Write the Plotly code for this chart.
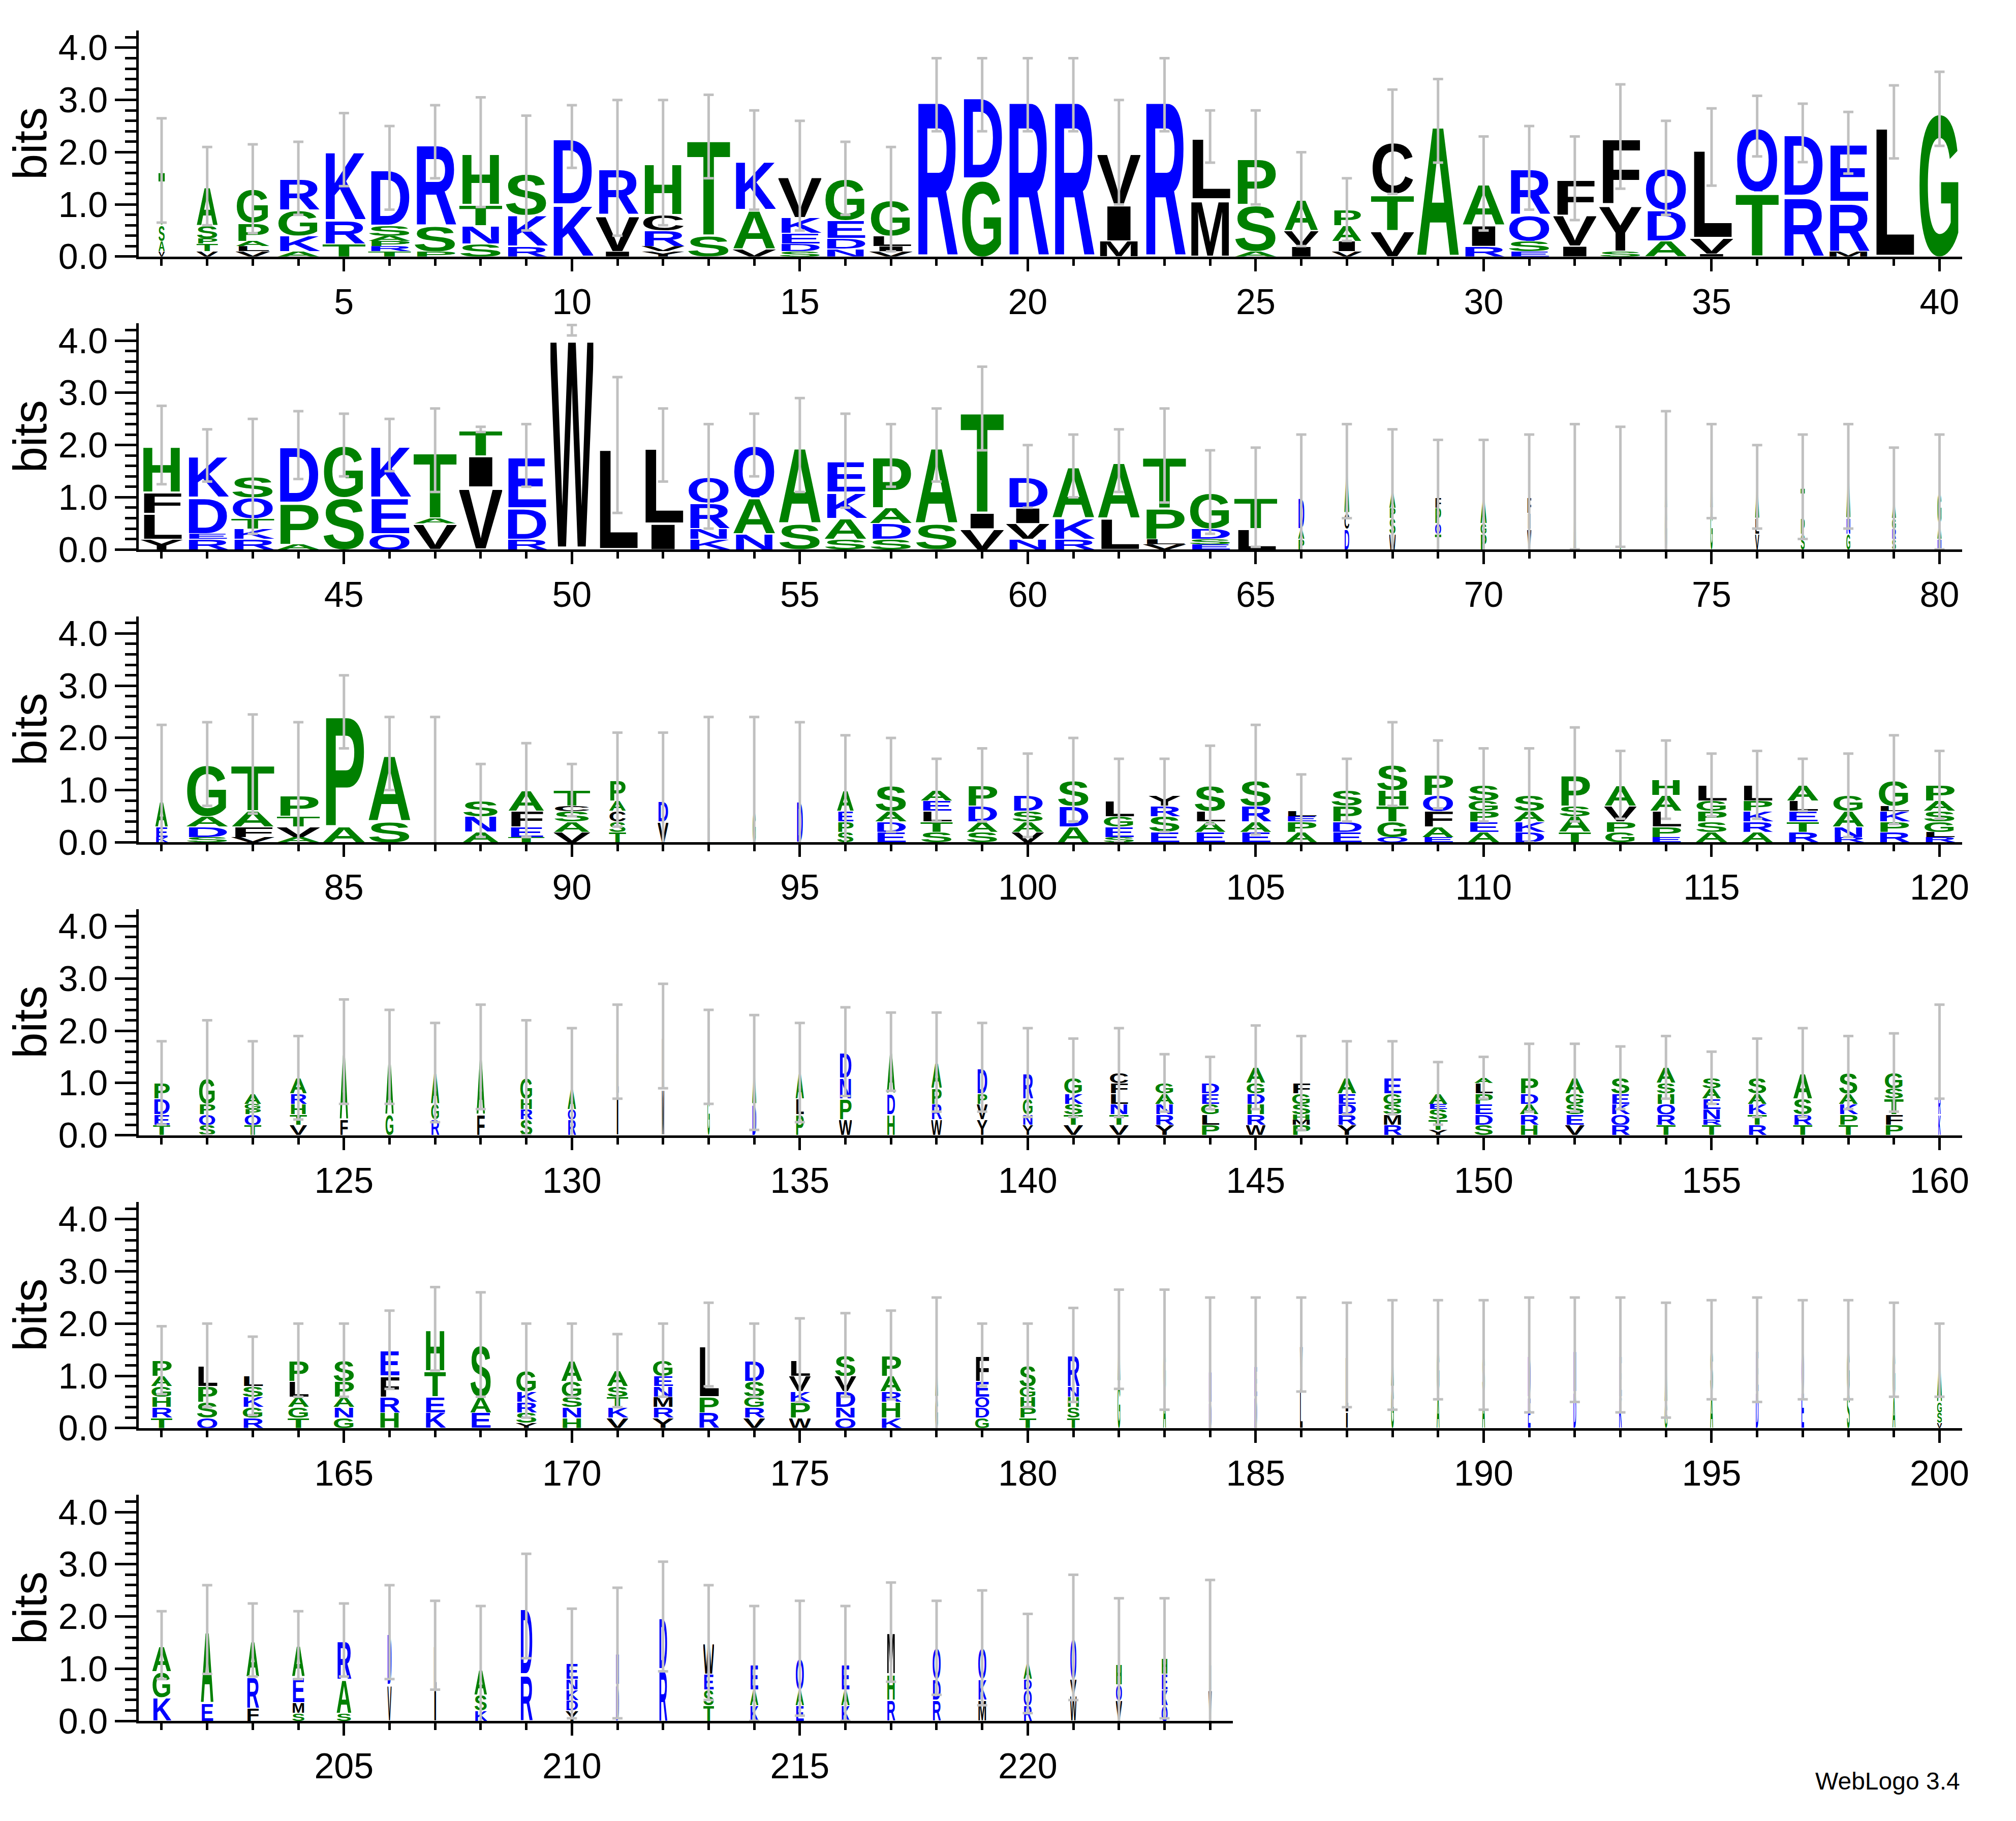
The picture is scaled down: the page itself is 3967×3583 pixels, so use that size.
import base64
import plotly.graph_objects as go

# sequence logo data: each stack lists letters bottom -> top with height in bits
row1_stacks = [
    "V0.1 A0.2 S0.3 T1.05", "V0.1 T0.15 P0.1 S0.25 A0.75", "V0.1 L0.1 A0.1 P0.35 G0.65", "A0.1 K0.3 G0.5 R0.6",
    "T0.25 R0.45 K1.35", "T0.1 R0.1 P0.1 A0.1 S0.2 D1.1", "P0.1 S0.5 R1.6", "S0.25 N0.35 T0.4 H1.0",
    "R0.2 K0.6 S0.8", "K1.0 D1.3", "I0.1 V0.7 R0.9", "Y0.1 V0.1 R0.3 C0.3 H1.0",
    "S0.4 T1.9", "V0.15 A0.75 K0.95", "S0.1 D0.15 E0.2 K0.3 V0.8", "N0.15 D0.2 E0.35 G0.8",
    "V0.1 I0.1 L0.2 G0.7", "R3.1", "G1.5 D1.6", "R3.1",
    "R3.1", "M0.3 I0.7 V1.0", "R3.1", "M1.1 L1.2",
    "A0.1 S0.9 P0.9", "I0.2 V0.3 A0.6", "V0.1 I0.2 A0.3 P0.3", "V0.5 T0.7 C1.0",
    "A2.6", "R0.2 I0.4 A0.8", "E0.1 S0.2 Q0.5 R0.9", "I0.2 V0.6 F0.7",
    "S0.1 Y0.9 F1.3", "A0.3 D0.6 Q0.8", "I0.05 V0.3 L1.75", "T1.25 Q1.25",
    "R1.17 D1.2", "M0.1 R0.95 E1.13", "L2.58", "G2.83",
]
row1_err_top = [2.65, 2.1, 2.15, 2.2, 2.75, 2.5, 2.9, 3.05, 2.7, 2.9, 3.0, 3.0, 3.1, 2.8, 2.6, 2.2, 2.1, 3.8, 3.8, 3.8,
                3.8, 3.0, 3.8, 2.8, 2.8, 2.0, 1.5, 3.2, 3.4, 2.3, 2.5, 2.3, 3.3, 2.6, 2.84, 3.08, 2.93, 2.77, 3.28, 3.54]
row1_occupancy = [0.15, 0.5, 0.8] + [1.0] * 22 + [0.8, 0.7] + [1.0] * 13

row2_stacks = [
    "Y0.2 L0.5 F0.4 H0.9", "R0.2 E0.1 D0.7 K0.8", "R0.2 K0.2 T0.2 Q0.4 S0.4", "A0.1 P0.8 D1.1",
    "S1.0 G1.0", "Q0.3 E0.7 K1.0", "V0.5 A0.1 T1.3", "V1.2 I0.6 T0.5",
    "R0.2 D0.6 E1.0", "W4.2", "L2.0", "I0.5 L1.5",
    "K0.2 N0.2 R0.5 Q0.5", "N0.3 A0.7 Q1.0", "S0.5 A1.5", "S0.2 A0.4 K0.5 E0.6",
    "S0.2 D0.3 A0.3 P1.0", "S0.5 A1.5", "V0.4 I0.3 T2.0", "N0.2 V0.3 I0.3 D0.6",
    "R0.2 K0.4 A1.0", "L0.6 A1.1", "V0.1 L0.1 P0.6 T1.0", "E0.1 S0.1 D0.2 G0.7",
    "L0.4 T0.6", "P0.2 A0.2 D0.6", "D0.4 C0.3 A0.8", "W0.3 S0.3 P0.2 A0.3",
    "T0.3 Q0.2 P0.3 F0.2", "P0.3 G0.2 A0.5", "V0.4 I0.3 F0.3", "A1.2",
    "G0.7 A0.5", "G0.8 A0.5", "G0.8 A0.7", "V0.3 L0.3 A0.6",
    "S0.3 P0.3 T0.6", "G0.3 N0.3 A0.8", "S0.2 R0.2 G0.2 A0.3", "N0.2 A0.3 G0.6",
]
row2_err_top = [2.75, 2.3, 2.5, 2.65, 2.6, 2.5, 2.7, 2.35, 2.4, 4.3, 3.3, 2.7, 2.4, 2.6, 2.9, 2.6, 2.4, 2.7, 3.5, 2.0,
                2.2, 2.3, 2.7, 1.9, 1.95, 2.2, 2.4, 2.3, 2.1, 2.1, 2.2, 2.4, 2.35, 2.65, 2.4, 2.0, 2.2, 2.4, 1.95, 2.2]
row2_occupancy = [1.0] * 25 + [0.15, 0.12, 0.15, 0.15, 0.15, 0.1, 0.06, 0.06, 0.06, 0.06, 0.1, 0.1, 0.1, 0.1, 0.1]

row3_stacks = [
    "K0.1 E0.2 A0.5", "S0.1 D0.2 A0.2 G1.0", "V0.1 F0.2 A0.3 T0.9", "A0.1 V0.2 T0.2 P0.4",
    "A0.3 P2.2", "S0.4 A1.3", "A0.05", "A0.2 N0.3 S0.3",
    "T0.1 E0.2 F0.3 A0.4", "V0.2 A0.2 S0.2 C0.1 T0.3", "T0.2 S0.2 C0.2 A0.2 P0.4", "V0.4 D0.4",
    "I0.5", "G0.6", "D0.8", "S0.2 P0.2 E0.2 A0.4",
    "E0.2 D0.2 A0.2 S0.5", "S0.2 T0.2 L0.2 E0.2 A0.2", "S0.2 A0.2 D0.3 P0.4", "V0.2 A0.2 S0.2 D0.3",
    "A0.3 D0.4 S0.5", "S0.1 E0.2 G0.2 L0.3", "E0.2 S0.3 R0.2 Y0.2", "E0.2 A0.2 L0.2 S0.5",
    "E0.2 A0.2 R0.3 S0.5", "A0.2 P0.2 E0.1 L0.1", "E0.2 D0.2 P0.3 S0.3", "Q0.1 G0.3 T0.3 H0.3 S0.5",
    "E0.1 A0.2 F0.3 Q0.3 P0.4", "A0.2 E0.2 P0.2 G0.2 S0.3", "D0.2 K0.2 A0.2 S0.3", "T0.2 A0.3 S0.2 P0.6",
    "G0.2 P0.2 V0.3 A0.4", "E0.1 P0.2 L0.3 A0.3 H0.3", "A0.2 S0.2 P0.2 G0.2 L0.3", "A0.2 R0.2 K0.2 P0.2 L0.3",
    "R0.2 T0.2 E0.2 L0.2 A0.3", "R0.1 N0.2 A0.3 G0.3", "R0.2 P0.2 K0.2 L0.1 G0.5", "R0.1 L0.1 G0.2 S0.2 A0.2 P0.3",
]
row3_err_top = [2.25, 2.3, 2.45, 2.3, 3.2, 2.4, 2.4, 1.5, 1.9, 1.5, 2.1, 2.1, 2.4, 2.4, 2.3, 2.05, 2.0, 1.6, 1.8, 1.7,
                2.0, 1.6, 1.6, 1.85, 2.25, 1.3, 1.6, 2.3, 1.95, 1.8, 1.8, 2.2, 1.75, 1.95, 1.7, 1.75, 1.6, 1.7, 2.05, 1.75]
row3_occupancy = [0.3] + [1.0] * 5 + [0.06, 0.85, 0.85, 0.85, 0.4, 0.25, 0.08, 0.08, 0.15, 0.4] + [0.75] * 24

row4_stacks = [
    "T0.2 E0.2 D0.3 P0.3", "S0.2 Q0.2 P0.2 G0.5", "T0.2 Q0.2 P0.1 G0.1 A0.2", "V0.2 T0.2 H0.2 R0.2 A0.3",
    "F0.3 A1.3", "G0.4 A1.1", "R0.3 G0.3 A0.6", "F0.4 A1.1",
    "S0.3 R0.2 H0.2 G0.4", "R0.3 Q0.2 A0.4", "I0.8 L0.8", "M0.9 L1.0",
    "G0.8 A0.7", "D0.6 A0.6", "P0.4 L0.3 A0.5", "W0.3 P0.4 N0.4 D0.5",
    "H0.4 D0.4 A0.8", "W0.3 R0.3 P0.3 A0.5", "Y0.3 V0.3 P0.2 D0.5", "Y0.2 N0.2 G0.3 R0.5",
    "V0.2 T0.2 S0.2 K0.2 G0.3", "V0.2 T0.2 N0.2 L0.2 F0.2 C0.2", "Y0.2 R0.2 N0.2 A0.2 G0.2", "P0.2 L0.2 G0.2 E0.2 D0.2",
    "W0.2 R0.2 H0.2 D0.2 G0.2 A0.3", "P0.2 M0.1 H0.1 S0.2 G0.2 F0.2", "Y0.2 R0.2 D0.2 E0.2 A0.3", "R0.2 M0.2 S0.2 G0.2 E0.3",
    "Y0.1 T0.2 S0.2 E0.1 A0.2", "S0.2 D0.2 E0.2 P0.2 L0.2 A0.1", "H0.2 R0.2 A0.2 D0.2 P0.3", "V0.2 E0.2 S0.2 G0.2 A0.3",
    "R0.2 Q0.2 K0.2 E0.2 S0.3", "T0.2 R0.2 Q0.2 H0.2 S0.2 A0.3", "T0.2 R0.1 N0.2 E0.2 A0.2 S0.2", "R0.2 T0.2 K0.2 A0.2 S0.3",
    "T0.2 R0.2 S0.3 A0.5", "T0.2 P0.2 K0.2 A0.2 S0.4", "P0.2 F0.2 T0.3 S0.2 G0.3", "K0.4 R0.4 A0.8",
]
row4_err_top = [1.8, 2.2, 1.8, 1.9, 2.6, 2.4, 2.15, 2.5, 2.2, 2.05, 2.5, 2.9, 2.4, 2.3, 2.15, 2.45, 2.35, 2.35, 2.15, 2.05,
                1.85, 2.05, 1.55, 1.5, 2.1, 1.9, 1.8, 1.8, 1.4, 1.5, 1.75, 1.75, 1.7, 1.9, 1.6, 1.85, 2.05, 1.9, 1.95, 2.5]
row4_occupancy = ([0.4] * 4 + [0.2] * 4 + [0.3, 0.2, 0.06, 0.06, 0.06, 0.1, 0.2, 0.3, 0.2, 0.25, 0.25, 0.25]
                  + [0.45] * 19 + [0.06])

row5_stacks = [
    "T0.2 R0.2 H0.2 G0.2 A0.2 P0.3", "Q0.2 S0.3 P0.3 L0.4", "R0.2 G0.2 K0.2 S0.2 L0.2", "T0.2 G0.2 A0.2 L0.3 P0.4",
    "G0.2 N0.2 A0.2 P0.3 S0.4", "H0.3 R0.3 F0.4 E0.5", "K0.3 E0.3 T0.5 H0.8", "E0.3 A0.3 S1.0",
    "Y0.1 S0.2 R0.2 K0.2 G0.4", "H0.2 N0.2 S0.2 G0.3 A0.4", "V0.2 K0.2 T0.2 S0.2 A0.3", "Y0.2 R0.2 M0.2 N0.2 E0.2 G0.3",
    "R0.3 P0.3 L1.0", "V0.2 R0.2 G0.2 S0.3 D0.4", "W0.2 P0.3 K0.2 V0.3 L0.3", "Q0.2 N0.2 D0.3 V0.3 S0.4",
    "K0.2 H0.3 R0.2 A0.3 P0.4", "G0.6 A0.6", "G0.2 D0.2 Q0.2 E0.3 F0.5", "T0.2 P0.2 H0.2 G0.2 S0.4",
    "T0.2 S0.2 H0.2 N0.2 R0.6", "G0.9 A0.8", "A0.7 G0.8", "D0.5 N0.6",
    "D0.6 E0.6", "L0.8 V0.8", "I0.3 L1.1", "G0.8 A0.6",
    "A0.7 G0.8", "A0.7 S0.7", "E0.6 D0.8", "D0.7 N0.8",
    "K0.6 E0.8", "G0.5 A0.8", "A0.7 S0.8", "D0.7 E0.8",
    "E0.7 Q0.8", "S0.7 G0.8", "A0.6 G0.9", "V0.1 S0.2 G0.2 A0.8",
]
row5_err_top = [1.95, 2.0, 1.75, 2.0, 2.0, 2.25, 2.7, 2.6, 2.0, 2.0, 1.8, 2.0, 2.4, 2.0, 2.1, 2.2, 2.25, 2.5, 2.0, 2.0,
                2.3, 2.65, 2.65, 2.5, 2.5, 2.5, 2.4, 2.45, 2.45, 2.45, 2.5, 2.5, 2.5, 2.4, 2.45, 2.5, 2.45, 2.45, 2.4, 2.0]
row5_occupancy = [0.5] * 17 + [0.07, 0.35, 0.4, 0.3] + [0.07] * 18 + [0.12]

row6_stacks = [
    "K0.45 G0.5 A0.5", "E0.35 A1.4", "F0.25 R0.6 A0.7", "S0.15 M0.2 E0.5 A0.6",
    "S0.15 A0.65 R0.75", "V0.7 D1.0", "I0.6 L0.85", "K0.2 S0.3 A0.5",
    "R0.9 D1.3", "Y0.2 D0.2 K0.2 N0.2 E0.3", "D0.7 N0.6", "R1.0 D1.0",
    "T0.3 S0.3 E0.3 W0.6", "K0.3 A0.3 E0.5", "E0.3 A0.3 Q0.6", "K0.3 A0.3 E0.5",
    "R0.4 H0.5 M0.8", "R0.4 D0.4 Q0.6", "M0.4 K0.4 Q0.6", "R0.3 Q0.3 D0.2 A0.3",
    "W0.5 V0.3 Q0.8", "V0.4 Q0.3 H0.4", "Q0.3 K0.3 E0.3 H0.3", "V0.6 I0.5",
]
row6_err_top = [2.1, 2.6, 2.25, 2.1, 2.25, 2.6, 2.3, 2.2, 3.2, 2.15, 2.55, 3.05, 2.6, 2.2, 2.3, 2.2, 2.65, 2.3, 2.5,
                2.05, 2.8, 2.35, 2.35, 2.7]
row6_occupancy = [0.45, 0.3, 0.3, 0.3, 0.35, 0.1, 0.07, 0.3, 0.3, 0.3, 0.08, 0.2, 0.25, 0.2, 0.2, 0.2, 0.2, 0.2, 0.2,
                  0.2, 0.15, 0.15, 0.15, 0.08]

rows = [
    (row1_stacks, row1_err_top, row1_occupancy),
    (row2_stacks, row2_err_top, row2_occupancy),
    (row3_stacks, row3_err_top, row3_occupancy),
    (row4_stacks, row4_err_top, row4_occupancy),
    (row5_stacks, row5_err_top, row5_occupancy),
    (row6_stacks, row6_err_top, row6_occupancy),
]

GREEN, BLUE, BLACK = "#008000", "#0000FF", "#000000"
COLORS = {}
for aa in "GSTAPH":
    COLORS[aa] = GREEN
for aa in "KRDENQ":
    COLORS[aa] = BLUE
for aa in "LIVMFWCY":
    COLORS[aa] = BLACK

W, H = 3967, 3583
PER_POS = 90.0           # px per position
X0 = 266.0               # px of left edge of plotting area
BASE0, ROW_STEP = 499.0, 583.4
PX_PER_BIT = 104.0
YMAX = 4.33

_svg_cache = {}


def glyph_uri(letter):
    # letter stretched to fill its box (preserveAspectRatio none)
    if letter not in _svg_cache:
        svg = ('<svg xmlns="http://www.w3.org/2000/svg" width="100" height="73" viewBox="2 -73 96 74" '
               'preserveAspectRatio="none"><text x="0" y="0" textLength="100" lengthAdjust="spacingAndGlyphs" '
               'font-family="Liberation Sans, Arial, Helvetica, sans-serif" font-weight="bold" font-size="100" '
               f'fill="{COLORS[letter]}">{letter}</text></svg>')
        _svg_cache[letter] = "data:image/svg+xml;base64," + base64.b64encode(svg.encode()).decode()
    return _svg_cache[letter]


fig = go.Figure()
images = []

for r, (stacks, err_top, occ) in enumerate(rows):
    n = r + 1
    xname = "x" if n == 1 else f"x{n}"
    yname = "y" if n == 1 else f"y{n}"
    first = r * 40 + 1
    positions = [first + i for i in range(len(stacks))]
    totals = []
    for pos, stack, w in zip(positions, stacks, occ):
        base = 0.0
        for item in stack.split():
            letter, h = item[0], float(item[1:])
            images.append(dict(source=glyph_uri(letter), xref=xname, yref=yname,
                               x=pos - w * 0.47, y=base + h, sizex=w * 0.94, sizey=h,
                               sizing="stretch", xanchor="left", yanchor="top", layer="below"))
            base += h
        totals.append(base)
    fig.add_trace(go.Scatter(
        x=positions, y=totals, mode="markers", marker=dict(size=1, opacity=0),
        error_y=dict(type="data", symmetric=True, array=[t - v for t, v in zip(err_top, totals)],
                     color="#C0C0C0", thickness=5, width=10),
        xaxis=xname, yaxis=yname, showlegend=False, hoverinfo="skip"))

    npos = len(stacks)
    base_px = BASE0 + ROW_STEP * r
    y_bot = 1 - base_px / H
    y_top = y_bot + YMAX * PX_PER_BIT / H
    x_left = X0 / W
    x_right = (X0 + npos * PER_POS) / W
    major = [p for p in positions if p % 5 == 0]
    fig.layout[f"xaxis{'' if n == 1 else n}"] = dict(
        domain=[x_left, x_right], anchor=yname, range=[first - 0.5, first - 0.5 + npos],
        showline=True, linewidth=5, linecolor="black", showgrid=False, zeroline=False,
        ticks="outside", tickvals=major, ticktext=[str(p) for p in major], ticklen=24, tickwidth=5,
        tickcolor="black", tickfont=dict(size=70, color="black"),
        minor=dict(tickvals=positions, ticks="outside", ticklen=13, tickwidth=5, tickcolor="black"),
        fixedrange=True)
    fig.layout[f"yaxis{'' if n == 1 else n}"] = dict(
        domain=[y_bot, y_top], anchor=xname, range=[0, YMAX],
        showline=True, linewidth=5, linecolor="black", showgrid=False, zeroline=False,
        ticks="outside", tickvals=[0, 1, 2, 3, 4], ticktext=["0.0", "1.0", "2.0", "3.0", "4.0"],
        ticklen=42, tickwidth=5, tickcolor="black", tickfont=dict(size=70, color="black"),
        minor=dict(dtick=0.2, tick0=0, ticks="outside", ticklen=22, tickwidth=5, tickcolor="black"),
        title=dict(text="bits", font=dict(size=92, color="black"), standoff=16), fixedrange=True)

fig.update_layout(
    width=W, height=H, images=images,
    paper_bgcolor="white", plot_bgcolor="rgba(0,0,0,0)",
    font=dict(family="Liberation Sans, Arial, sans-serif", color="black"),
    margin=dict(l=0, r=0, t=0, b=0), showlegend=False,
    annotations=[dict(text="WebLogo 3.4", xref="paper", yref="paper", x=3864 / W, y=1 - 3565 / H,
                      xanchor="right", yanchor="bottom", showarrow=False, font=dict(size=48, color="black"))],
)

fig.write_html("out.html")
